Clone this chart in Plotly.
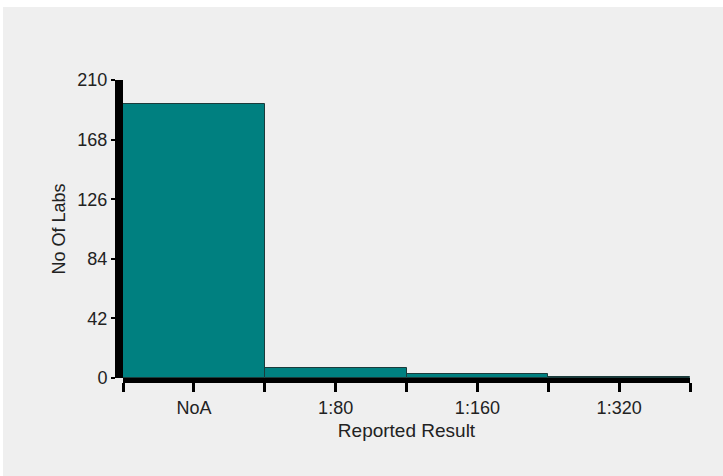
import plotly.graph_objects as go

categories = ["NoA", "1:80", "1:160", "1:320"]
no_of_labs = [193, 7, 3, 1]
y_ticks = [0, 42, 84, 126, 168, 210]

W, H = 723, 476
L, R, T, B = 123, 33, 80, 98
pw, ph = W - L - R, H - T - B

xpos = list(range(len(categories)))

fig = go.Figure(go.Bar(
    x=xpos, y=no_of_labs, width=1.0,
    marker=dict(color="#008080", line=dict(color="#1b3b3b", width=1)),
    hoverinfo="skip",
))

bg = "#EFEFEF"
# grey panel with a thin white border at the top and left, as in the reference
fig.add_shape(type="rect", xref="paper", yref="paper", layer="below",
              x0=(3 - L) / pw, x1=(W - L) / pw,
              y0=-B / ph, y1=(ph + T - 7) / ph,
              fillcolor=bg, line=dict(width=0))

txt = "#222"
fig.update_layout(
    width=W, height=H,
    margin=dict(l=L, r=R, t=T, b=B),
    paper_bgcolor="white", plot_bgcolor=bg,
    font=dict(family="Arial, Liberation Sans, sans-serif", size=18, color=txt),
    bargap=0, showlegend=False,
    xaxis=dict(
        range=[-0.5, len(categories) - 0.5],
        tickmode="array", tickvals=xpos, ticktext=categories,
        tickfont=dict(size=18),
        showline=True, linecolor="black", linewidth=5,
        ticks="outside", ticklen=9, tickwidth=3, tickcolor="black",
        minor=dict(tickmode="array", tickvals=[i - 0.5 for i in range(len(categories) + 1)],
                   ticks="outside", ticklen=9, tickwidth=3, tickcolor="black"),
        showgrid=False, zeroline=False,
        title=dict(text="Reported Result", standoff=9, font=dict(size=19)),
        fixedrange=True,
    ),
    yaxis=dict(
        range=[0, 210], tickmode="array", tickvals=y_ticks,
        tickfont=dict(size=18),
        anchor="free", position=0, shift=-4,
        showline=True, linecolor="black", linewidth=8,
        ticks="outside", ticklen=4, tickwidth=2, tickcolor="black",
        showgrid=False, zeroline=False,
        title=dict(text="No Of Labs", standoff=6, font=dict(size=18)),
        fixedrange=True,
    ),
)

fig.write_html("out.html", config={"displayModeBar": False},
               post_script="document.body.style.margin='0';")
